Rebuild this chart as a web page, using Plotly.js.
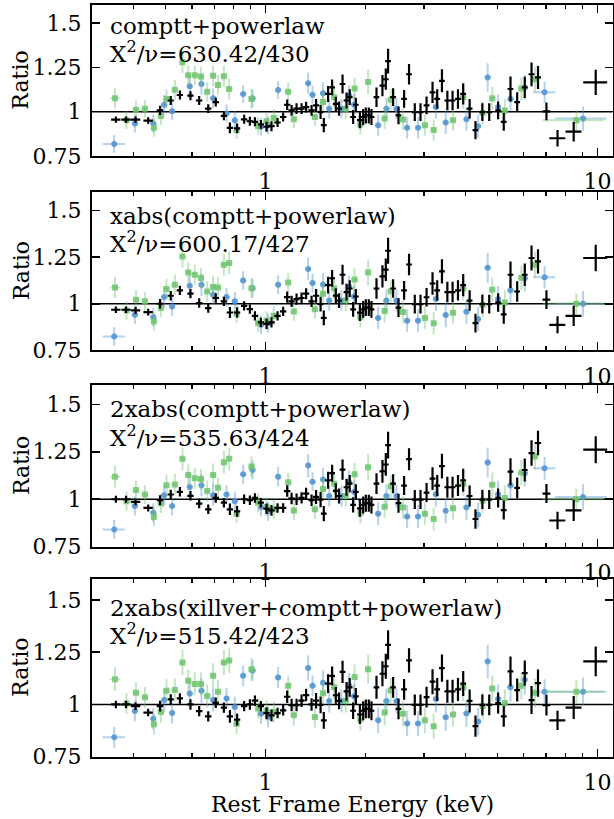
<!DOCTYPE html>
<html>
<head>
<meta charset="utf-8">
<script src="https://cdn.plot.ly/plotly-3.0.1.min.js"></script>
<style>html,body{margin:0;padding:0;background:#fff;}#chart{width:614px;height:819px;}</style>
</head>
<body>
<div id="chart"></div>
<script>
// ---------- DATA ----------
const models = ['comptt+powerlaw', 'xabs(comptt+powerlaw)', '2xabs(comptt+powerlaw)', '2xabs(xillver+comptt+powerlaw)'];
const chi2 = ['630.42/430', '600.17/427', '535.63/424', '515.42/423'];
const xTickVals = [1, 10];
const xTickText = ['1', '10'];
const xMinorVals = [0.4, 0.5, 0.6, 0.7, 0.8, 0.9, 2, 3, 4, 5, 6, 7, 8, 9];
const yTickVals = [0.75, 1, 1.25, 1.5];
const yTickText = ['0.75', '1', '1.25', '1.5'];
const refLevel = 1;

// black (crosses)
const eBlack = [0.354,0.380,0.406,0.443,0.481,0.518,0.552,0.594,0.631,0.672,0.708,0.749,0.781,0.821,0.862,0.897,0.929,0.968,1.007,1.042,1.087,1.130,1.162,1.198,1.240,1.284,1.325,1.376,1.420,1.465,1.498,1.543,1.587,1.628,1.665,1.706,1.754,1.793,1.836,1.871,1.924,1.969,2.005,2.047,2.085,2.159,2.250,2.303,2.340,2.423,2.515,2.615,2.706,2.816,2.930,3.056,3.185,3.290,3.400,3.530,3.660,3.800,3.940,4.120,4.290,4.500,4.720,5.020,5.220,5.470,5.730,6.040,6.330,6.620,7.020,7.580,8.480,9.880];
const eBlackErr = [0.0115,0.0124,0.0132,0.0144,0.011,0.011,0.012,0.013,0.014,0.015,0.016,0.016,0.017,0.018,0.019,0.020,0.020,0.021,0.022,0.023,0.024,0.025,0.026,0.026,0.027,0.028,0.029,0.030,0.031,0.029,0.030,0.031,0.032,0.033,0.033,0.034,0.035,0.036,0.037,0.037,0.038,0.039,0.040,0.041,0.042,0.043,0.045,0.046,0.047,0.048,0.050,0.052,0.054,0.056,0.059,0.061,0.064,0.066,0.068,0.071,0.073,0.076,0.079,0.082,0.086,0.090,0.094,0.100,0.104,0.109,0.115,0.120,0.130,0.140,0.190,0.420,0.470,0.820];
const rBlackErr = [0.018,0.018,0.018,0.018,0.026,0.025,0.025,0.025,0.025,0.025,0.025,0.025,0.03,0.028,0.025,0.025,0.025,0.025,0.028,0.028,0.025,0.025,0.03,0.03,0.03,0.03,0.03,0.03,0.037,0.04,0.04,0.045,0.045,0.04,0.04,0.053,0.045,0.045,0.04,0.04,0.045,0.045,0.045,0.045,0.045,0.055,0.06,0.06,0.07,0.05,0.05,0.05,0.058,0.05,0.05,0.05,0.06,0.055,0.065,0.055,0.055,0.055,0.06,0.055,0.051,0.05,0.05,0.05,0.05,0.071,0.055,0.06,0.067,0.065,0.05,0.046,0.055,0.071];
const rBlack1 = [0.955,0.955,0.955,0.950,1.007,1.063,1.094,1.090,1.063,1.017,1.054,0.976,0.909,0.906,0.957,0.946,0.943,0.928,0.915,0.918,0.939,0.970,1.039,1.007,1.017,1.017,1.026,1.007,1.035,0.998,0.924,1.100,1.137,1.044,1.017,1.156,1.063,1.082,0.970,1.039,0.952,0.970,0.979,0.979,0.970,1.082,1.147,1.183,1.285,1.082,0.979,1.072,1.211,0.998,0.998,1.035,1.109,1.072,1.174,1.063,1.063,1.072,1.100,1.017,0.896,0.998,0.998,1.007,0.943,1.128,1.054,1.137,1.211,1.193,1.002,0.850,0.887,1.165];
const rBlack2 = [0.968,0.968,0.965,0.955,1.000,1.043,1.072,1.054,1.004,0.977,1.031,1.013,0.953,0.953,0.989,0.971,0.935,0.900,0.892,0.900,0.935,0.959,1.036,1.013,1.025,1.031,1.054,1.013,1.043,0.998,0.924,1.100,1.137,1.044,1.017,1.156,1.063,1.082,0.970,1.039,0.952,0.970,0.979,0.979,0.970,1.082,1.147,1.183,1.285,1.082,0.979,1.072,1.211,0.998,0.998,1.035,1.109,1.072,1.174,1.063,1.063,1.072,1.100,1.017,0.896,0.998,0.998,1.007,0.943,1.156,1.066,1.156,1.246,1.228,1.022,0.887,0.935,1.246];
const rBlack3 = [1.000,1.000,0.986,0.954,0.995,1.025,1.039,1.018,0.977,0.947,1.007,0.982,0.947,0.936,1.000,0.995,1.007,0.982,0.950,0.941,0.954,0.954,1.043,1.004,1.000,1.007,1.030,0.995,1.012,0.998,0.924,1.100,1.137,1.044,1.017,1.156,1.063,1.082,0.970,1.039,0.952,0.970,0.979,0.979,0.970,1.082,1.147,1.183,1.285,1.082,0.979,1.072,1.211,0.998,0.998,1.035,1.109,1.072,1.174,1.063,1.063,1.072,1.100,1.017,0.896,0.998,0.998,1.007,0.943,1.145,1.060,1.154,1.243,1.296,1.030,0.888,0.941,1.261];
const rBlack4 = [1.000,1.000,0.992,0.961,0.992,1.024,1.029,1.000,0.968,0.943,1.008,0.985,0.943,0.927,0.992,1.000,1.018,0.992,0.959,0.948,0.959,0.972,1.037,0.997,0.997,1.018,1.045,1.000,1.018,0.998,0.924,1.100,1.137,1.044,1.017,1.156,1.063,1.082,0.970,1.039,0.952,0.970,0.979,0.979,0.970,1.082,1.147,1.183,1.285,1.082,0.979,1.072,1.211,0.998,0.998,1.035,1.109,1.072,1.174,1.063,1.063,1.072,1.100,1.017,0.896,0.998,0.998,1.007,0.943,1.158,1.069,1.150,1.021,1.102,0.997,0.924,0.985,1.206];

// blue (circles)
const eBlue = [0.350,0.404,0.459,0.495,0.523,0.591,0.641,0.695,0.763,0.808,0.856,0.914,0.969,1.018,1.091,1.344,1.385,1.490,1.555,1.694,1.785,1.848,2.184,2.313,2.480,2.670,2.880,3.260,3.490,4.030,4.370,4.670,5.020,5.470,6.040,6.930,9.050];
const eBlueErr = [0.027,0.009,0.010,0.011,0.011,0.012,0.013,0.014,0.016,0.017,0.018,0.019,0.020,0.021,0.023,0.028,0.029,0.031,0.033,0.036,0.038,0.039,0.046,0.049,0.052,0.056,0.061,0.068,0.073,0.085,0.092,0.098,0.105,0.115,0.127,0.530,1.600];
const rBlueErr = [0.05,0.05,0.05,0.055,0.05,0.06,0.06,0.055,0.05,0.05,0.05,0.05,0.05,0.05,0.05,0.06,0.05,0.06,0.055,0.055,0.06,0.06,0.06,0.06,0.06,0.06,0.06,0.065,0.065,0.065,0.065,0.08,0.07,0.07,0.07,0.06,0.068];
const rBlue1 = [0.818,0.933,0.933,1.039,1.002,1.143,1.156,1.076,0.990,0.952,1.100,1.076,0.915,0.924,1.122,1.161,1.096,1.104,1.017,1.017,1.091,1.039,0.924,1.017,1.017,0.909,0.909,1.026,0.939,0.957,0.918,1.193,1.026,1.072,1.137,1.109,0.961];
const rBlue2 = [0.824,0.941,0.928,1.036,0.985,1.097,1.102,1.048,1.036,1.013,1.125,1.084,0.887,0.896,1.102,1.187,1.111,1.104,1.017,1.017,1.091,1.039,0.924,1.017,1.017,0.909,0.909,1.026,0.939,0.957,0.918,1.193,1.026,1.072,1.137,1.143,1.000];
const rBlue3 = [0.840,0.964,0.929,1.021,0.964,1.065,1.074,1.021,1.025,0.989,1.131,1.154,0.959,0.936,1.119,1.177,1.092,1.104,1.017,1.017,1.091,1.039,0.924,1.017,1.017,0.909,0.909,1.026,0.939,0.957,0.918,1.193,1.026,1.072,1.137,1.163,1.012];
const rBlue4 = [0.843,0.969,0.932,1.021,0.959,1.053,1.066,1.021,1.029,0.988,1.137,1.163,0.956,0.940,1.129,1.174,1.089,1.104,1.017,1.017,1.091,1.039,0.924,1.017,1.017,0.909,0.909,1.026,0.939,0.957,0.918,1.206,1.026,1.082,1.118,1.061,1.061];

// green (squares)
const eGreen = [0.352,0.381,0.407,0.433,0.461,0.484,0.503,0.533,0.562,0.585,0.612,0.639,0.667,0.695,0.719,0.749,0.777,0.818,0.907,0.950,1.007,1.059,1.170,1.217,1.408,1.490,1.610,1.745,1.855,1.932,2.037,2.285,2.385,2.595,3.020,3.210,3.670,3.940,4.510,4.820,5.260,5.900,6.480,8.640];
const eGreenErr = [0.012,0.008,0.009,0.0095,0.010,0.011,0.011,0.012,0.012,0.013,0.013,0.014,0.015,0.015,0.016,0.016,0.017,0.018,0.020,0.021,0.022,0.023,0.026,0.027,0.031,0.033,0.035,0.038,0.041,0.043,0.045,0.050,0.052,0.057,0.066,0.071,0.081,0.087,0.099,0.106,0.116,0.130,0.143,1.800];
const rGreenErr = [0.057,0.05,0.05,0.05,0.05,0.05,0.055,0.055,0.06,0.055,0.055,0.055,0.055,0.06,0.055,0.06,0.06,0.05,0.055,0.05,0.05,0.05,0.05,0.05,0.05,0.055,0.055,0.055,0.06,0.055,0.07,0.06,0.06,0.06,0.06,0.06,0.06,0.065,0.065,0.065,0.065,0.065,0.07,0.055];
const rGreen1 = [1.076,0.952,1.011,1.017,0.909,0.976,1.072,1.124,1.279,1.206,1.206,1.198,1.113,1.202,1.150,1.200,1.128,0.896,1.072,0.918,0.946,0.965,1.113,0.957,0.970,1.054,1.082,1.017,1.131,0.928,1.168,0.961,1.067,0.956,0.924,0.896,0.952,1.082,0.993,1.076,1.007,1.131,1.183,0.952];
const rGreen2 = [1.088,0.964,1.022,1.013,0.905,0.977,1.079,1.102,1.254,1.168,1.156,1.138,1.066,1.090,1.088,1.210,1.219,0.946,1.084,0.896,0.910,0.935,1.114,0.959,0.971,1.054,1.082,1.017,1.131,0.928,1.168,0.961,1.067,0.956,0.924,0.896,0.952,1.082,0.993,1.076,1.007,1.140,1.210,1.000];
const rGreen3 = [1.119,0.989,1.048,1.025,0.906,0.977,1.074,1.078,1.213,1.128,1.110,1.106,1.043,1.128,1.060,1.195,1.213,0.924,1.172,0.982,0.959,0.947,1.089,0.941,0.947,1.054,1.082,1.017,1.131,0.928,1.168,0.961,1.067,0.956,0.924,0.896,0.952,1.082,0.993,1.076,1.007,1.140,1.225,1.000];
const rGreen4 = [1.121,1.005,1.056,1.034,0.905,0.964,1.066,1.069,1.201,1.114,1.098,1.098,1.040,1.137,1.061,1.201,1.211,0.908,1.169,0.981,0.969,0.964,1.089,0.948,0.940,1.054,1.082,1.017,1.131,0.928,1.168,0.961,1.067,0.956,0.924,0.896,0.952,1.082,0.993,1.076,1.007,1.089,1.056,1.061];

const blackSets = [rBlack1, rBlack2, rBlack3, rBlack4];
const blueSets = [rBlue1, rBlue2, rBlue3, rBlue4];
const greenSets = [rGreen1, rGreen2, rGreen3, rGreen4];

// ---------- LAYOUT ----------
const W = 614, H = 819;
const FONT = 'DejaVu Serif';
const plotLeft = 92, plotRight = 612.5;
const panelTop = [5.3, 192.1, 385.3, 579.1];
const panelBottom = [156, 350.3, 546.7, 756.7];
const line1Off = [21, 23.5, 24, 29];
const line2Off = [47, 49.5, 50.5, 55];
const fx = p => p / W;
const fy = p => 1 - p / H;

const BLUE = 'rgba(80,146,208,0.85)', BLUE_E = 'rgba(80,146,208,0.42)';
const GREEN = 'rgba(112,196,112,0.85)', GREEN_E = 'rgba(112,196,112,0.42)';

const traces = [];
const layout = {
  width: W, height: H, showlegend: false,
  margin: {l: 0, r: 0, t: 0, b: 0},
  paper_bgcolor: '#fff', plot_bgcolor: '#fff',
  font: {family: FONT, size: 22, color: '#000'},
  annotations: [], shapes: []
};

for (let i = 0; i < 4; i++) {
  const sfx = i === 0 ? '' : String(i + 1);
  const xa = 'x' + sfx, ya = 'y' + sfx;
  traces.push({
    type: 'scatter', mode: 'markers', x: eBlue, y: blueSets[i], xaxis: xa, yaxis: ya,
    marker: {symbol: 'circle', size: 6, color: BLUE},
    error_x: {type: 'data', array: eBlueErr, thickness: 2, width: 0, color: BLUE_E},
    error_y: {type: 'data', array: rBlueErr, thickness: 2, width: 0, color: BLUE_E},
    hoverinfo: 'skip'
  });
  traces.push({
    type: 'scatter', mode: 'markers', x: eGreen, y: greenSets[i], xaxis: xa, yaxis: ya,
    marker: {symbol: 'square', size: 6, color: GREEN},
    error_x: {type: 'data', array: eGreenErr, thickness: 2, width: 0, color: GREEN_E},
    error_y: {type: 'data', array: rGreenErr, thickness: 2, width: 0, color: GREEN_E},
    hoverinfo: 'skip'
  });
  traces.push({
    type: 'scatter', mode: 'markers', x: eBlack, y: blackSets[i], xaxis: xa, yaxis: ya,
    marker: {size: 2, color: '#000'},
    error_x: {type: 'data', array: eBlackErr, thickness: 2.2, width: 0, color: '#000'},
    error_y: {type: 'data', array: rBlackErr, thickness: 2.2, width: 0, color: '#000'},
    hoverinfo: 'skip'
  });

  layout['xaxis' + sfx] = {
    type: 'log', range: [Math.log10(0.3), Math.log10(11.1)],
    domain: [fx(plotLeft), fx(plotRight)], anchor: ya,
    tickmode: 'array', tickvals: xTickVals, ticktext: xTickText,
    ticks: 'inside', ticklen: 8, tickwidth: 1.5, tickcolor: '#000',
    minor: {tickmode: 'array', tickvals: xMinorVals, ticks: 'inside', ticklen: 4, tickwidth: 1.2, tickcolor: '#000', showgrid: false},
    showline: true, linewidth: 2, linecolor: '#000', mirror: 'allticks',
    showgrid: false, zeroline: false,
    tickfont: {family: FONT, size: 22, color: '#000'},
    ticklabelstandoff: 5
  };
  layout['yaxis' + sfx] = {
    range: [0.75, 1.6],
    domain: [fy(panelBottom[i]), fy(panelTop[i])], anchor: xa,
    tickmode: 'array', tickvals: yTickVals, ticktext: yTickText,
    ticks: 'inside', ticklen: 8, tickwidth: 1.5, tickcolor: '#000',
    showline: true, linewidth: 2, linecolor: '#000', mirror: 'allticks',
    showgrid: false, zeroline: false,
    tickfont: {family: FONT, size: 22, color: '#000'},
    ticklabelstandoff: 4
  };
  layout.shapes.push({
    type: 'line', xref: xa + ' domain', yref: ya, x0: 0, x1: 1, y0: refLevel, y1: refLevel,
    line: {color: '#000', width: 1.6}, layer: 'below'
  });
  layout.annotations.push({
    xref: 'paper', yref: 'paper', x: fx(108), y: fy(panelTop[i] + line1Off[i]),
    xanchor: 'left', yanchor: 'middle', showarrow: false,
    text: models[i], font: {family: FONT, size: 23, color: '#000'}
  });
  layout.annotations.push({
    xref: 'paper', yref: 'paper', x: fx(108), y: fy(panelTop[i] + line2Off[i]),
    xanchor: 'left', yanchor: 'middle', showarrow: false,
    text: 'X<sup>2</sup>/\u03bd=' + chi2[i], font: {family: FONT, size: 23, color: '#000'}
  });
  layout.annotations.push({
    xref: 'paper', yref: 'paper', x: fx(21), y: fy((panelTop[i] + panelBottom[i]) / 2),
    xanchor: 'center', yanchor: 'middle', showarrow: false, textangle: -90,
    text: 'Ratio', font: {family: FONT, size: 22, color: '#000'}
  });
}
layout.annotations.push({
  xref: 'paper', yref: 'paper', x: fx((plotLeft + plotRight) / 2), y: fy(804),
  xanchor: 'center', yanchor: 'middle', showarrow: false,
  text: 'Rest Frame Energy (keV)', font: {family: FONT, size: 22, color: '#000'}
});

Plotly.newPlot('chart', traces, layout, {staticPlot: true, displayModeBar: false});
</script>
</body>
</html>
